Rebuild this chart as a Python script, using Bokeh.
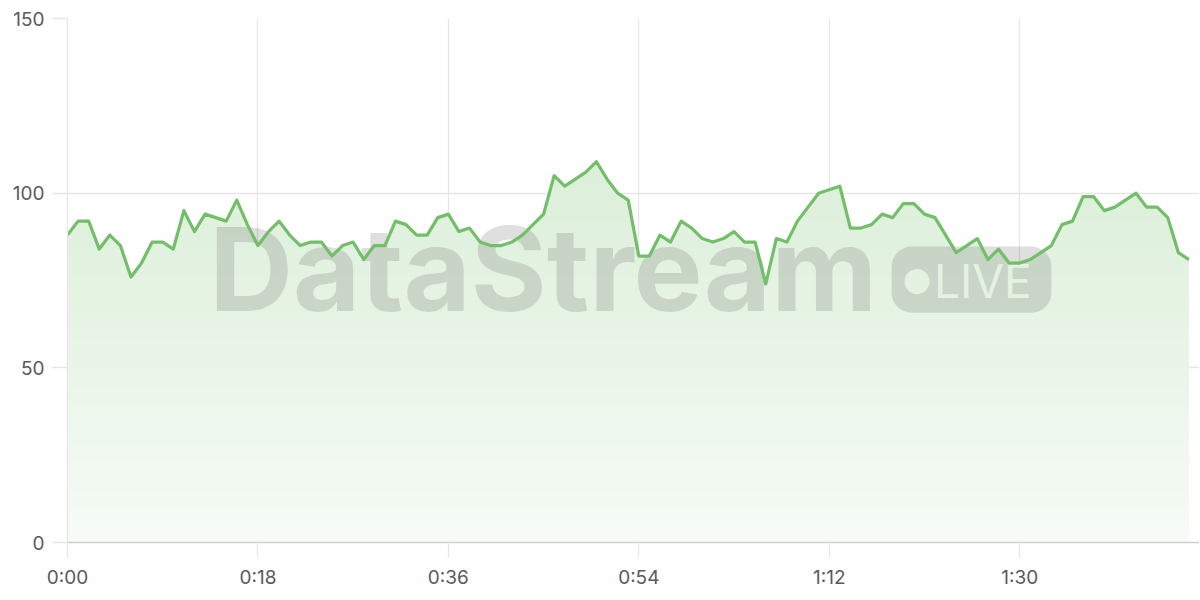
import numpy as np
from bokeh.plotting import figure
from bokeh.models import Range1d, FixedTicker
from bokeh.core.properties import value
from bokeh.embed import file_html
from bokeh.resources import INLINE

# seconds since start
seconds = list(range(107))
values = [88, 92, 92, 84, 88, 85, 76, 80, 86, 86,
          84, 95, 89, 94, 93, 92, 98, 91, 85, 89,
          92, 88, 85, 86, 86, 82, 85, 86, 81, 85,
          85, 92, 91, 88, 88, 93, 94, 89, 90, 86,
          85, 85, 86, 88, 91, 94, 105, 102, 104, 106,
          109, 104, 100, 98, 82, 82, 88, 86, 92, 90,
          87, 86, 87, 89, 86, 86, 74, 87, 86, 92,
          96, 100, 101, 102, 90, 90, 91, 94, 93, 97,
          97, 94, 93, 88, 83, 85, 87, 81, 84, 80,
          80, 81, 83, 85, 91, 92, 99, 99, 95, 96,
          98, 100, 96, 96, 93, 83, 81]
x_ticks = [0, 18, 36, 54, 72, 90]
x_tick_labels = ["0:00", "0:18", "0:36", "0:54", "1:12", "1:30"]
y_ticks = [0, 50, 100, 150]

GREEN = (115, 191, 105)
GREEN_HEX = "#73bf69"
GRID = "#e6e6e6"
LABEL = "#5a5a5a"
FONT = "Inter"

W, H = 1199, 592
BL, BR, BT, BB = 67, 0, 18, 50
X0, X1, Y0, Y1 = 0, 107, 0, 150

p = figure(width=W, height=H, output_backend="svg", toolbar_location=None,
           x_range=Range1d(X0, X1), y_range=Range1d(Y0, Y1),
           min_border_left=BL, min_border_right=BR, min_border_top=BT,
           min_border_bottom=BB)
p.outline_line_color = None
p.background_fill_color = "white"
p.border_fill_color = "white"

# grid
p.xgrid.ticker = FixedTicker(ticks=x_ticks)
p.ygrid.ticker = FixedTicker(ticks=y_ticks)
p.xgrid.grid_line_color = GRID
p.ygrid.grid_line_color = GRID
p.xgrid.grid_line_width = 1.3
p.ygrid.grid_line_width = 1.3

# axes
p.xaxis.ticker = FixedTicker(ticks=x_ticks)
p.xaxis.major_label_overrides = {t: l for t, l in zip(x_ticks, x_tick_labels)}
p.yaxis.ticker = FixedTicker(ticks=y_ticks)
for ax in (p.xaxis[0], p.yaxis[0]):
    ax.major_tick_out = 15
    ax.major_tick_in = 0
    ax.major_tick_line_color = GRID
    ax.major_tick_line_width = 1.3
    ax.minor_tick_line_color = None
    ax.major_label_text_font = FONT
    ax.major_label_text_font_size = "19px"
    ax.major_label_text_color = LABEL
p.xaxis.axis_line_color = "#cfcfcf"
p.xaxis.axis_line_width = 1.5
p.yaxis.axis_line_color = GRID
p.yaxis.axis_line_width = 1.3
p.xaxis.major_label_standoff = 8
p.yaxis.major_label_standoff = 8

xs = np.array(seconds, dtype=float)
vs = np.array(values, dtype=float)


def grad_color(h):
    a = 0.06 + 0.18 * h / 100.0
    r, g, b = (int(round(255 * (1 - a) + c * a)) for c in GREEN)
    return "#%02x%02x%02x" % (r, g, b)


# gradient area fill: opaque bands, each drawn from its floor up to the line
step = 2.0
for lo in np.arange(0, 112, step):
    if lo >= vs.max():
        break
    p.varea(x=xs, y1=np.minimum(vs, lo), y2=vs, fill_color=grad_color(lo + step / 2),
            fill_alpha=1.0)

# watermark
WM = "#555555"
WA = 0.19
p.text(x=[13.4], y=[78.3], text=["DataStream"], text_font=value(FONT),
       text_font_size="116px", text_font_style="bold", text_color=WM,
       text_alpha=WA, text_baseline="alphabetic", text_align="left")

# rounded badge
ppx = (W - BL - BR) / (X1 - X0)
ppy = (H - BT - BB) / (Y1 - Y0)
bl, br, bb, bt, rad = 77.9, 93.0, 65.8, 84.7, 20.0
rx, ry = rad / ppx, rad / ppy
bx, by = [], []
for cx, cy, a0 in [(br - rx, bt - ry, 0), (bl + rx, bt - ry, 90),
                   (bl + rx, bb + ry, 180), (br - rx, bb + ry, 270)]:
    t = np.radians(np.linspace(a0, a0 + 90, 12))
    bx.extend(cx + rx * np.cos(t))
    by.extend(cy + ry * np.sin(t))
p.patch(x=bx, y=by, fill_color=WM, fill_alpha=WA, line_color=None)
cut = grad_color(76)
p.scatter(x=[80.3], y=[74.7], size=25, marker="circle", fill_color=cut,
          line_color=None)
p.text(x=[81.9], y=[75.0], text=["LIVE"], text_font=value(FONT),
       text_font_size="46px", text_color=cut,
       text_baseline="alphabetic", text_align="left")

# line
p.line(x=xs, y=vs, line_color=GREEN_HEX, line_width=3.2, line_join="round")

open("out.html", "w").write(file_html(p, INLINE))
